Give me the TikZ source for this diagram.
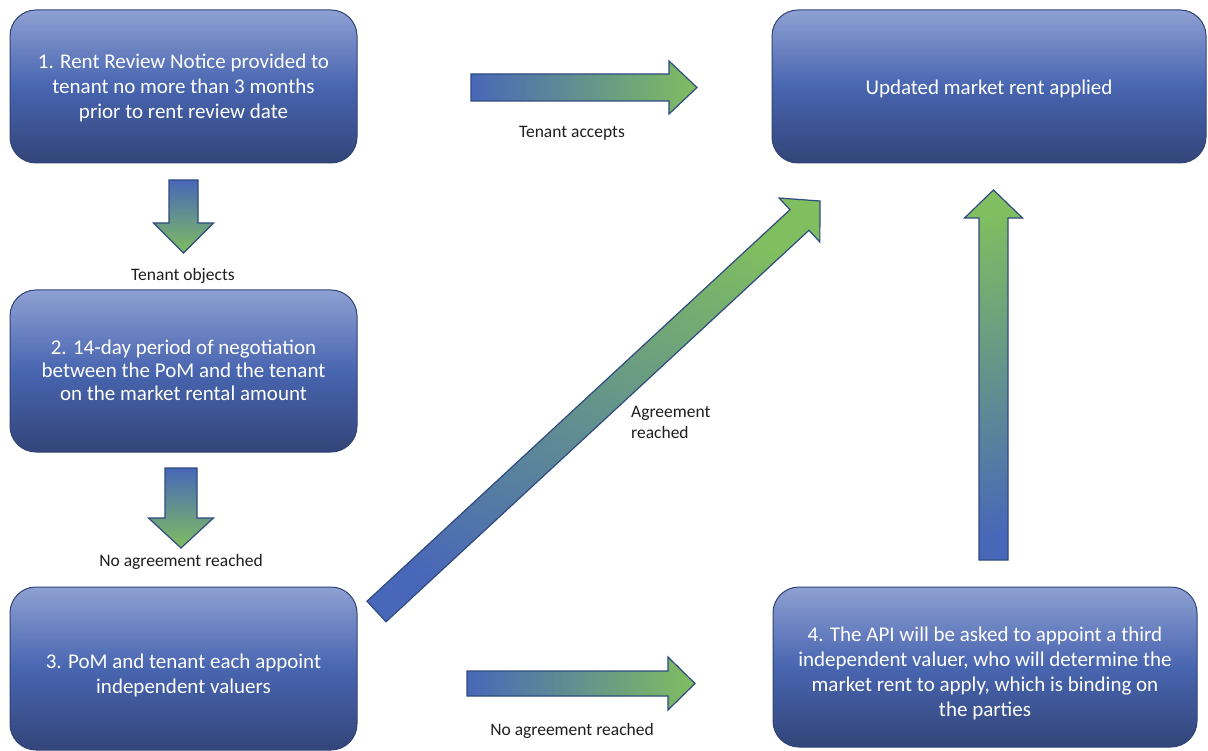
\documentclass[tikz,border=0pt]{standalone}
\usepackage{fontspec}
\setmainfont{Carlito}
\usetikzlibrary{calc}
\definecolor{boxtop}{RGB}{143,160,211}
\definecolor{boxmid}{RGB}{72,101,176}
\definecolor{boxbot}{RGB}{51,69,121}
\definecolor{boxline}{RGB}{47,68,116}
\definecolor{arblue}{RGB}{72,103,184}
\definecolor{argreen}{RGB}{128,190,96}
\definecolor{arline}{RGB}{47,75,128}
\definecolor{labtxt}{RGB}{30,30,30}
% #1 tail, #2 tip, #3 shaft half width, #4 head half width, #5 head length, #6 shading angle offset
\newcommand\blockarrow[6]{%
  \path let \p1=($(#2)-(#1)$) in \pgfextra{\pgfmathsetmacro\tmpang{atan2(\y1,\x1)-90+#6}\global\let\barang\tmpang};
  \coordinate (hb) at ($(#2)!#5!(#1)$);
  \draw[blockarrow, shading angle=\barang]
    ($(#1)!#3!90:(#2)$) -- ($(hb)!#3!90:(#2)$) -- ($(hb)!#4!90:(#2)$) -- (#2)
    -- ($(hb)!#4!-90:(#2)$) -- ($(hb)!#3!-90:(#2)$) -- ($(#1)!#3!-90:(#2)$) -- cycle;
}
\tikzset{
  box/.style={draw=boxline, line width=1pt, rounded corners=26pt, top color=boxtop, bottom color=boxbot, middle color=boxmid, inner sep=0pt},
  boxtext/.style={text=white, align=center, inner sep=0pt, font=\fontsize{21}{25}\selectfont},
  lab/.style={text=labtxt, inner sep=0pt, font=\fontsize{17.5}{21}\selectfont},
  blockarrow/.style={draw=arline, line width=1.2pt, top color=argreen, bottom color=arblue, middle color=arblue!50!argreen, line join=miter}
}
\begin{document}
\begin{tikzpicture}[x=1pt, y=-1pt]
\fill[white] (0,0) rectangle (1208,751);
\useasboundingbox (0,0) rectangle (1208,751);

% boxes
\node[box, minimum width=347pt, minimum height=153pt] (b1) at (183.5,86.5) {};
\node[boxtext] (b1t) at ($(b1.center)+(0,1)$)
  {1. Rent Review Notice provided to\\tenant no more than 3 months\\prior to rent review date};
\node[box, minimum width=434pt, minimum height=153pt] (up) at (989,86.5) {};
\node[boxtext] (upt) at ($(up.center)+(0,2)$) {Updated market rent applied};
\node[box, minimum width=347pt, minimum height=162pt] (b2) at (183.5,371) {};
\node[boxtext, font=\fontsize{21}{23}\selectfont] (b2t) at ($(b2.center)+(0,-0.5)$)
  {2. 14-day period of negotiation\\between the PoM and the tenant\\on the market rental amount};
\node[box, minimum width=347pt, minimum height=163pt] (b3) at (183.5,668.5) {};
\node[boxtext] (b3t) at ($(b3.center)+(0,7)$) {3. PoM and tenant each appoint\\independent valuers};
\node[box, minimum width=424pt, minimum height=160pt] (b4) at (985,667) {};
\node[boxtext] (b4t) at ($(b4.center)+(0,6.5)$) {4. The API will be asked to appoint a third\\independent valuer, who will determine the\\market rent to apply, which is binding on\\the parties};

% arrow end points
\coordinate (a1s) at (471,87.5);  \coordinate (a1t) at (697,87.5);
\coordinate (d1s) at (183.5,180); \coordinate (d1t) at (183.5,253);
\coordinate (d2s) at (181,468);   \coordinate (d2t) at (181,548);
\coordinate (a2s) at (467,683.5); \coordinate (a2t) at (695,683.5);
\coordinate (ups) at (993.5,560); \coordinate (uptip) at (993.5,190);
\coordinate (dgs) at (376.5,611.5); \coordinate (dgt) at (820,201);

\blockarrow{a1s}{a1t}{13.5pt}{26.5pt}{28pt}{0}
\blockarrow{d1s}{d1t}{14.5pt}{30pt}{30pt}{0}
\blockarrow{d2s}{d2t}{16pt}{32.5pt}{30pt}{0}
\blockarrow{a2s}{a2t}{12.5pt}{26.5pt}{27pt}{0}
\blockarrow{ups}{uptip}{14.5pt}{29pt}{28pt}{12}
\blockarrow{dgs}{dgt}{14pt}{30pt}{28pt}{25}

% labels
\node[lab] (l1) at (572,133) {Tenant accepts};
\node[lab] (l2) at (183,276) {Tenant objects};
\node[lab] (l3) at (181,562) {No agreement reached};
\node[lab, align=left, anchor=west] (l4) at (631,422.5) {Agreement\\reached};
\node[lab] (l5) at (572,731) {No agreement reached};
\end{tikzpicture}
\end{document}
